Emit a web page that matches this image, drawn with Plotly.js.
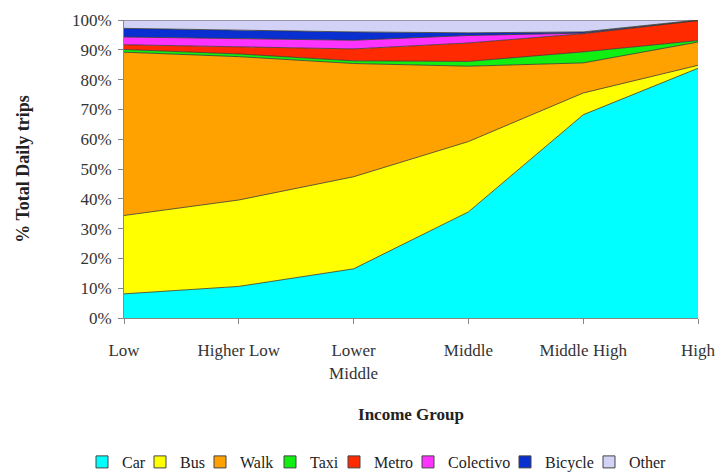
<!DOCTYPE html>
<html>
<head>
<meta charset="utf-8">
<script src="https://cdn.plot.ly/plotly-3.0.1.min.js"></script>
<style>html,body{margin:0;padding:0;background:#fff;}#chart{width:715px;height:474px;}</style>
</head>
<body>
<div id="chart"></div>
<script>
const incomeGroups = ["Low", "Higher Low", "Lower<br>Middle", "Middle", "Middle High", "High"];
const car       = [8.1, 10.6, 16.5, 35.6, 68.2, 83.8];
const bus       = [26.3, 29.0, 30.9, 23.6, 7.3, 1.0];
const walk      = [54.8, 48.1, 38.0, 25.3, 10.1, 7.8];
const taxi      = [0.9, 0.9, 0.9, 1.6, 3.7, 0.5];
const metro     = [1.6, 2.5, 4.0, 6.2, 6.1, 6.7];
const colectivo = [2.6, 2.7, 2.9, 2.5, 0.2, 0.1];
const bicycle   = [2.9, 2.8, 2.8, 0.9, 0.4, 0.1];
const other     = [2.8, 3.4, 4.0, 4.3, 4.0, 0.0];
const yTicks    = [0, 10, 20, 30, 40, 50, 60, 70, 80, 90, 100];
const modeNames = ["Car", "Bus", "Walk", "Taxi", "Metro", "Colectivo", "Bicycle", "Other"];

const modeValues = [car, bus, walk, taxi, metro, colectivo, bicycle, other];
const modeColors = ["#00FFFF", "#FFFF00", "#FFA200", "#11EE11", "#FF2A00", "#FF33FF", "#0A2FD0", "#D2D2F6"];
// left edge (px) of each one-entry legend, so the row reads like the original
const legendLeftPx = [82, 140, 200, 270, 334, 408, 505, 589];

const plotL = 124, plotR = 17, W = 715, H = 474, plotT = 20, plotB = 156;

const xIdx = incomeGroups.map((_, i) => i);
const traces = [];
modeNames.forEach((name, i) => {
  traces.push({
    type: "scatter", mode: "lines",
    x: xIdx, y: modeValues[i], name: name,
    stackgroup: "one", fillcolor: modeColors[i],
    line: {color: "#3a3a2a", width: 0.8},
    showlegend: false, hoverinfo: "name+y"
  });
});
// legend keys (square swatches), one legend each
modeNames.forEach((name, i) => {
  traces.push({
    type: "bar", x: [null], y: [null], name: name,
    marker: {color: modeColors[i], line: {color: "#444", width: 1}},
    showlegend: true, legend: i === 0 ? "legend" : "legend" + (i + 1),
    hoverinfo: "skip"
  });
});

const serif = "Liberation Serif";
const layout = {
  width: W, height: H,
  margin: {l: plotL, r: plotR, t: plotT, b: plotB},
  paper_bgcolor: "#fff", plot_bgcolor: "#fff",
  font: {family: serif, size: 16, color: "#222"},
  showlegend: true,
  xaxis: {
    range: [0, 5],
    tickmode: "array", tickvals: xIdx, ticktext: incomeGroups,
    showgrid: false, zeroline: false,
    showline: true, linecolor: "#888", linewidth: 1,
    ticks: "outside", ticklen: 5, tickcolor: "#888",
    ticklabelstandoff: 12, ticklabeloverflow: "allow",
    tickfont: {family: serif, size: 17, color: "#333"},
    title: {text: "<b>Income Group</b>", font: {family: serif, size: 17, color: "#222"}, standoff: 26}
  },
  yaxis: {
    range: [0, 100],
    tickmode: "array", tickvals: yTicks, ticktext: yTicks.map(v => v + "%"),
    showgrid: false, zeroline: false,
    showline: true, linecolor: "#888", linewidth: 1,
    ticks: "outside", ticklen: 5, tickcolor: "#888",
    ticklabelstandoff: 3,
    tickfont: {family: serif, size: 17, color: "#333"},
    title: {text: "<b>% Total Daily trips</b>", font: {family: serif, size: 18, color: "#222"}, standoff: 37}
  }
};
modeNames.forEach((name, i) => {
  const key = i === 0 ? "legend" : "legend" + (i + 1);
  layout[key] = {
    orientation: "h",
    xref: "container", yref: "container",
    x: legendLeftPx[i] / W, xanchor: "left",
    y: 1 - 462 / H, yanchor: "middle",
    font: {family: serif, size: 16, color: "#222"},
    itemwidth: 30, itemclick: false, bgcolor: "rgba(0,0,0,0)"
  };
});

Plotly.newPlot("chart", traces, layout, {staticPlot: true, displayModeBar: false});
</script>
</body>
</html>
